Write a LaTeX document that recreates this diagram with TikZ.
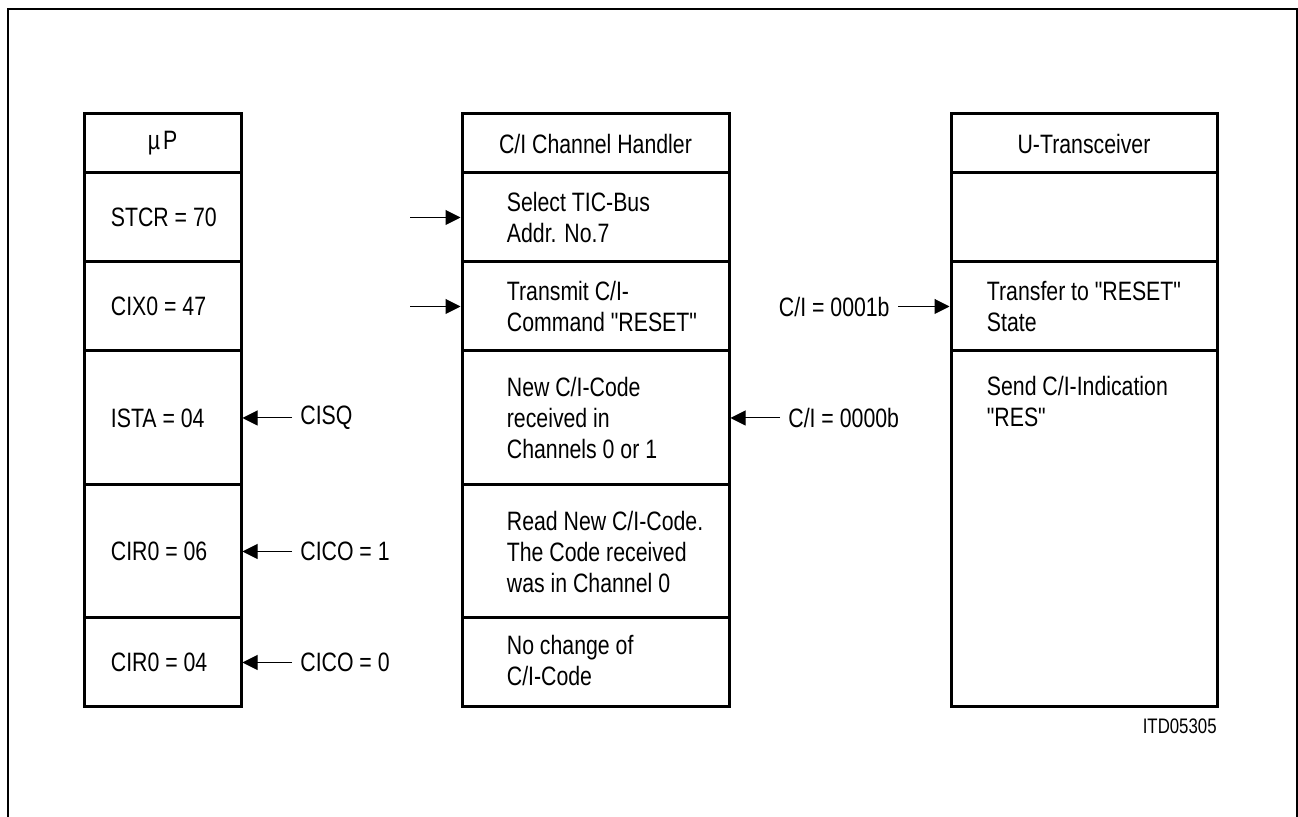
\documentclass[tikz,border=0pt]{standalone}
\usepackage{fontspec}
\setmainfont{Liberation Sans}[FakeStretch=0.8,Ligatures=TeXOff]
\usetikzlibrary{arrows.meta,positioning}

\tikzset{
  cell/.style={draw,line width=1.5pt,inner sep=0pt,minimum width=#1},
  txt/.style={inner sep=0pt,align=left},
  lbl/.style={inner xsep=4pt,inner ysep=0pt},
  sig/.style={-{Triangle[length=7.5pt,width=7.5pt]},line width=0.5pt},
}

\begin{document}
\begin{tikzpicture}[x=0.5pt,y=-0.5pt,font=\fontsize{13.3}{15.5}\selectfont]
  \useasboundingbox (0,0) rectangle (1298,817);
  % frame, open at the bottom
  \draw[line width=1.2pt] (8,817) -- (8,9) -- (1297,9) -- (1297,817);

  % muP column
  \node[cell=78.5pt,minimum height=29.5pt] (mp) at (162.5,143.5) {µ\kern1.5pt P};
  \node[cell=78.5pt,minimum height=44.5pt] (stcr) at (162.5,217.5) {};
  \node[cell=78.5pt,minimum height=44.5pt] (cix) at (162.5,306.5) {};
  \node[cell=78.5pt,minimum height=67pt] (ista) at (162.5,418) {};
  \node[cell=78.5pt,minimum height=66.5pt] (cirsix) at (162.5,551.5) {};
  \node[cell=78.5pt,minimum height=44.5pt] (cirfour) at (162.5,662.5) {};
  \node[txt,anchor=west] (stcr-t) at ([xshift=14pt]stcr.west) {STCR = 70};
  \node[txt,anchor=west] (cix-t) at ([xshift=14pt]cix.west) {CIX0 = 47};
  \node[txt,anchor=west] (ista-t) at ([xshift=14pt]ista.west) {ISTA = 04};
  \node[txt,anchor=west] (cirsix-t) at ([xshift=14pt]cirsix.west) {CIR0 = 06};
  \node[txt,anchor=west] (cirfour-t) at ([xshift=14pt]cirfour.west) {CIR0 = 04};

  % C/I channel handler column
  \node[cell=133.5pt,minimum height=29.5pt] (ch) at (595.5,143.5) {C/I Channel Handler};
  \node[cell=133.5pt,minimum height=44.5pt] (sel) at (595.5,217.5) {};
  \node[cell=133.5pt,minimum height=44.5pt] (tx) at (595.5,306.5) {};
  \node[cell=133.5pt,minimum height=67pt] (newc) at (595.5,418) {};
  \node[cell=133.5pt,minimum height=66.5pt] (rd) at (595.5,551.5) {};
  \node[cell=133.5pt,minimum height=44.5pt] (noch) at (595.5,662.5) {};
  \node[txt,anchor=west] (sel-t) at ([xshift=23pt]sel.west) {Select TIC-Bus\\Addr. No.7};
  \node[txt,anchor=west] (tx-t) at ([xshift=23pt]tx.west) {Transmit C/I-\\Command "RESET"};
  \node[txt,anchor=west] (newc-t) at ([xshift=23pt]newc.west) {New C/I-Code\\received in\\Channels 0 or 1};
  \node[txt,anchor=west] (rd-t) at ([xshift=23pt]rd.west) {Read New C/I-Code.\\The Code received\\was in Channel 0};
  \node[txt,anchor=west] (noch-t) at ([xshift=23pt,yshift=1pt]noch.west) {No change of\\C/I-Code};

  % U-transceiver column
  \node[cell=133pt,minimum height=29.5pt] (ut) at (1084,143.5) {U-Transceiver};
  \node[cell=133pt,minimum height=44.5pt] (idle) at (1084,217.5) {};
  \node[cell=133pt,minimum height=44.5pt] (trf) at (1084,306.5) {};
  \node[cell=133pt,minimum height=178pt] (snd) at (1084,529) {};
  \node[txt,anchor=west] (trf-t) at ([xshift=18.5pt]trf.west) {Transfer to "RESET"\\State};
  \node[txt,anchor=north west] (snd-t) at ([xshift=18.5pt,yshift=-13pt]snd.north west) {Send C/I-Indication\\"RES"};

  % signals
  \coordinate (selin) at (410,217.5);
  \coordinate (txin) at (410,306.5);
  \draw[sig] (selin) -- (sel.west);
  \draw[sig] (txin) -- (tx.west);
  \node[lbl,anchor=east] (cione) at (898,306.5) {C/I = 0001b};
  \draw[sig] (cione.east) -- (trf.west);
  \node[lbl,anchor=west] (cizero) at (780,418) {C/I = 0000b};
  \draw[sig] (cizero.west) -- (newc.east);
  \node[lbl,anchor=west] (cisq) at (292,418) {CISQ};
  \draw[sig] (cisq.west) -- (ista.east);
  \node[lbl,anchor=west] (cicoone) at (292,551.5) {CICO = 1};
  \draw[sig] (cicoone.west) -- (cirsix.east);
  \node[lbl,anchor=west] (cicozero) at (292,662.5) {CICO = 0};
  \draw[sig] (cicozero.west) -- (cirfour.east);

  \node[inner sep=0pt,anchor=east,font=\fontsize{10.5}{12}\selectfont] (itd) at (1217,726) {ITD05305};
\end{tikzpicture}
\end{document}
